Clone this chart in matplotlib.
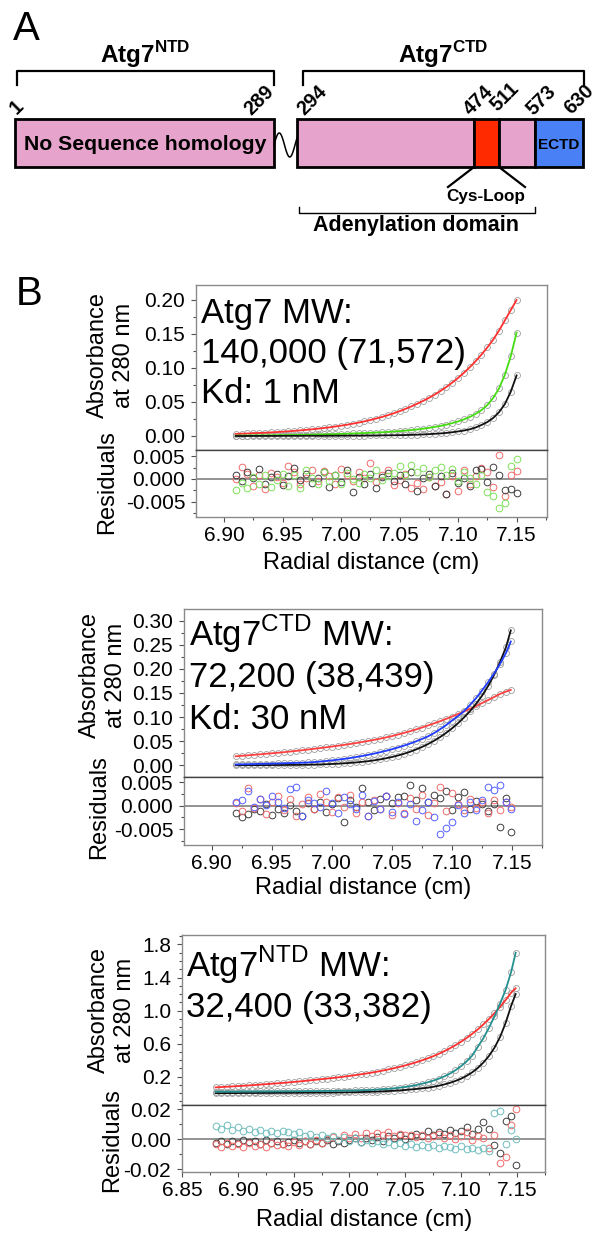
import numpy as np
import matplotlib
matplotlib.use("Agg")
import matplotlib.pyplot as plt
from matplotlib.patches import Rectangle
from matplotlib.ticker import MultipleLocator, FixedLocator, FormatStrFormatter

plt.rcParams['font.family'] = ['Liberation Sans', 'DejaVu Sans']
plt.rcParams['mathtext.fontset'] = 'custom'
plt.rcParams['mathtext.rm'] = 'Liberation Sans'
plt.rcParams['mathtext.bf'] = 'Liberation Sans:bold'
plt.rcParams['axes.unicode_minus'] = False

W, H = 598, 1235

# === PANEL A: DOMAIN MAP ===
residue_labels = ["1", "289", "294", "474", "511", "573", "630"]
domain_names = ["No Sequence homology", "", "Cys-Loop", "", "ECTD"]
domain_colors = ["#e6a3cb", "#e6a3cb", "#ff2a00", "#e6a3cb", "#4a80f5"]

# === PANEL B: SEDIMENTATION EQUILIBRIUM ===
# Atg7 full length
radial_atg7 = [6.910, 6.915, 6.920, 6.925, 6.930, 6.935, 6.940,
               6.945, 6.950, 6.955, 6.960, 6.965, 6.970, 6.975,
               6.980, 6.985, 6.990, 6.995, 7.000, 7.005, 7.010,
               7.015, 7.020, 7.025, 7.030, 7.035, 7.040, 7.045,
               7.050, 7.055, 7.060, 7.065, 7.070, 7.075, 7.080,
               7.085, 7.090, 7.095, 7.100, 7.105, 7.110, 7.115,
               7.120, 7.125, 7.130, 7.135, 7.140, 7.145, 7.150]
abs_atg7_red = [.0031, .0034, .0037, .0041, .0044, .0048, .0053,
                .0058, .0063, .0069, .0075, .0082, .0090, .0098,
                .0107, .0117, .0127, .0139, .0152, .0165, .0181,
                .0197, .0215, .0235, .0257, .0280, .0306, .0334,
                .0365, .0398, .0435, .0473, .0515, .0560, .0609,
                .0663, .0721, .0785, .0854, .0929, .1011, .1100,
                .1197, .1302, .1417, .1550, .1700, .1850, .2000]
abs_atg7_green = [.0005, .0006, .0007, .0008, .0009, .0010, .0011,
                  .0012, .0013, .0014, .0015, .0016, .0018, .0020,
                  .0022, .0024, .0026, .0028, .0031, .0034, .0037,
                  .0040, .0043, .0047, .0051, .0055, .0060, .0066,
                  .0072, .0079, .0087, .0096, .0107, .0119, .0133,
                  .0149, .0167, .0189, .0214, .0244, .0280, .0325,
                  .0380, .0455, .0560, .0700, .0900, .1170, .1520]
abs_atg7_black = [.0000, .0000, .0000, .0001, .0001, .0001, .0001,
                  .0001, .0002, .0002, .0002, .0002, .0003, .0003,
                  .0003, .0003, .0004, .0004, .0005, .0005, .0006,
                  .0006, .0007, .0008, .0008, .0009, .0010, .0011,
                  .0012, .0014, .0016, .0019, .0023, .0027, .0032,
                  .0038, .0045, .0055, .0067, .0080, .0098, .0125,
                  .0162, .0205, .0265, .0350, .0470, .0650, .0890]
# residuals in units of 1e-3
res_atg7_red = [0.0, 2.6, 1.0, -1.6, 0.8, -2.2, 1.3,
                0.4, -0.8, 2.9, 1.5, -1.2, 0.3, 2.0,
                -0.5, 1.8, 0.6, -1.0, 2.2, 0.9, -0.4,
                1.6, 0.2, 3.5, -0.6, 0.8, 1.9, -1.4,
                -0.2, 1.2, -1.9, -0.9, -2.3, 0.5, -1.6,
                -0.6, -3.4, 0.7, -2.6, 1.9, -1.1, 0.6,
                2.4, 1.6, -1.8, 5.2, -3.8, 0.9, 1.8]
res_atg7_black = [0.8, -0.5, 1.6, 0.2, 2.3, -1.0, 0.4,
                  1.2, -1.4, 0.6, 2.5, -0.3, 1.0, -0.9,
                  0.3, 1.6, -1.8, 0.9, -0.6, 1.9, -2.8,
                  0.5, -1.2, 1.0, -2.0, 0.4, 1.3, -0.5,
                  0.9, -1.0, 1.5, -2.7, 0.2, 1.1, -1.6,
                  0.6, -3.4, 1.4, -0.8, 0.3, -1.5, 1.9,
                  2.1, -0.7, 2.6, 0.8, -2.4, -2.2, -3.0]
res_atg7_green = [-2.5, -0.8, -1.9, 0.4, -1.2, 0.9, -1.8,
                  -0.3, 1.1, -1.5, 0.8, -1.9, 2.0, 0.2,
                  -1.0, 1.6, -0.4, 0.9, -1.2, 1.3, 0.1,
                  -0.8, 1.2, 0.3, 1.9, -0.3, 0.6, 1.4,
                  2.8, 0.8, 3.0, 1.5, 2.4, 0.5, 1.9,
                  2.7, 0.9, 2.2, -0.4, 1.6, 0.3, -1.0,
                  0.8, -2.9, -3.8, -6.5, -5.3, 2.8, 4.4]

# Atg7 CTD
radial_ctd = [6.920, 6.925, 6.930, 6.935, 6.940, 6.945, 6.950,
              6.955, 6.960, 6.965, 6.970, 6.975, 6.980, 6.985,
              6.990, 6.995, 7.000, 7.005, 7.010, 7.015, 7.020,
              7.025, 7.030, 7.035, 7.040, 7.045, 7.050, 7.055,
              7.060, 7.065, 7.070, 7.075, 7.080, 7.085, 7.090,
              7.095, 7.100, 7.105, 7.110, 7.115, 7.120, 7.125,
              7.130, 7.135, 7.140, 7.145, 7.149]
abs_ctd_red = [.0185, .0195, .0205, .0215, .0226, .0237, .0248,
               .0258, .0270, .0283, .0296, .0310, .0325, .0340,
               .0355, .0371, .0387, .0404, .0421, .0440, .0459,
               .0480, .0502, .0525, .0550, .0576, .0604, .0637,
               .0670, .0705, .0742, .0782, .0825, .0868, .0912,
               .0960, .1010, .1062, .1115, .1170, .1228, .1290,
               .1352, .1415, .1480, .1530, .1565]
abs_ctd_blue = [.0015, .0018, .0021, .0024, .0027, .0030, .0033,
                .0036, .0040, .0044, .0048, .0052, .0057, .0065,
                .0075, .0087, .0100, .0114, .0130, .0148, .0168,
                .0190, .0214, .0240, .0268, .0298, .0331, .0367,
                .0406, .0448, .0494, .0544, .0598, .0665, .0745,
                .0830, .0925, .1020, .1120, .1250, .1390, .1550,
                .1720, .1900, .2100, .2330, .2570]
abs_ctd_black = [.0000, .0000, .0001, .0001, .0002, .0002, .0003,
                 .0004, .0005, .0006, .0007, .0009, .0011, .0013,
                 .0016, .0020, .0025, .0031, .0038, .0047, .0057,
                 .0069, .0083, .0100, .0120, .0143, .0170, .0201,
                 .0237, .0278, .0325, .0378, .0438, .0506, .0582,
                 .0668, .0764, .0870, .0990, .1120, .1270, .1440,
                 .1640, .1870, .2140, .2450, .2800]
res_ctd_red = [0.6, -1.2, 3.8, -0.5, 1.4, -1.8, 0.9,
               2.1, -0.9, 1.5, -2.2, 0.4, 1.8, -0.6,
               2.6, 0.8, -1.4, 1.9, -0.3, 2.3, -1.6,
               0.9, -2.3, 1.2, -0.7, 2.0, -1.9, 0.5,
               -1.5, 1.7, -0.8, 2.2, -2.0, 0.6, 4.0,
               -1.2, 2.8, 0.4, -1.0, 1.5, -0.5, 0.9,
               -1.6, 1.2, -0.9, 0.7, -0.3]
res_ctd_black = [-1.5, -2.4, -1.8, -0.6, -1.2, 0.3, -1.9,
                 -0.8, -1.6, 0.2, -1.1, -2.2, 0.5, -0.7,
                 0.9, -1.3, 0.4, 1.6, -3.5, 1.2, -0.2,
                 3.9, 0.8, -1.0, 1.4, 2.0, 0.6, 1.9,
                 2.1, 4.5, 1.3, 3.7, 0.9, 2.4, 1.6,
                 3.2, -0.9, 1.8, 2.9, -0.6, 1.1, 0.3,
                 -1.2, 0.4, -4.5, 1.6, -5.6]
res_ctd_blue = [0.8, 1.2, 3.2, -0.3, 1.5, 0.2, 2.0,
                0.9, -0.4, 3.5, 4.1, -2.3, 1.3, 0.6,
                -0.2, 3.2, 0.5, -1.5, 1.9, 0.3, -0.8,
                2.4, -2.2, 1.1, -0.6, 2.0, -1.3, 0.7,
                -1.8, 0.4, -3.3, -1.0, 0.9, -2.4, -6.1,
                -4.7, -3.4, 0.2, -1.5, 0.8, -1.0, 1.3,
                4.0, 3.3, 4.4, 0.9, -0.8]

# Atg7 NTD
radial_ntd = [6.880, 6.885, 6.890, 6.895, 6.900, 6.905, 6.910,
              6.915, 6.920, 6.925, 6.930, 6.935, 6.940, 6.945,
              6.950, 6.955, 6.960, 6.965, 6.970, 6.975, 6.980,
              6.985, 6.990, 6.995, 7.000, 7.005, 7.010, 7.015,
              7.020, 7.025, 7.030, 7.035, 7.040, 7.045, 7.050,
              7.055, 7.060, 7.065, 7.070, 7.075, 7.080, 7.085,
              7.090, 7.095, 7.100, 7.105, 7.110, 7.115, 7.120,
              7.125, 7.130, 7.135, 7.140, 7.145, 7.149]
abs_ntd_red = [.070, .074, .078, .082, .086, .090, .094,
               .099, .104, .109, .114, .119, .124, .130,
               .136, .142, .149, .156, .163, .170, .177,
               .184, .192, .200, .209, .218, .228, .238,
               .249, .261, .274, .288, .303, .319, .336,
               .355, .375, .397, .421, .447, .476, .508,
               .543, .581, .623, .668, .718, .772, .832,
               .897, .968, 1.045, 1.128, 1.218, 1.270]
abs_ntd_teal = [.018, .018, .019, .019, .019, .020, .020,
                .020, .021, .021, .021, .022, .022, .023,
                .023, .024, .024, .025, .025, .026, .027,
                .028, .029, .030, .031, .033, .035, .037,
                .040, .044, .048, .053, .059, .067, .076,
                .087, .099, .114, .131, .151, .175, .203,
                .236, .278, .327, .385, .455, .560, .665,
                .790, .930, 1.085, 1.250, 1.470, 1.700]
abs_ntd_black = [.000, .000, .001, .001, .001, .002, .002,
                 .002, .003, .003, .003, .004, .004, .004,
                 .005, .005, .006, .006, .007, .007, .008,
                 .008, .009, .010, .011, .012, .014, .016,
                 .018, .020, .023, .026, .030, .034, .039,
                 .045, .051, .058, .066, .077, .090, .106,
                 .125, .148, .175, .210, .252, .305, .370,
                 .450, .550, .680, .850, 1.060, 1.200]
res_ntd_teal = [8.5, 7.0, 9.6, 6.2, 7.8, 5.4, 6.9,
                5.0, 6.3, 4.2, 5.6, 3.8, 5.1, 4.4,
                3.2, 4.5, 2.1, 3.6, 1.5, 2.8, 0.6,
                1.9, -0.4, 1.2, -1.3, 0.5, -2.0, -0.8,
                -2.6, -1.2, -3.3, -1.9, -3.8, -2.7, -4.5,
                -3.2, -5.3, -3.9, -5.0, -4.2, -6.0, -4.6,
                -5.5, -6.4, -4.9, -6.8, -5.7, -7.5, -6.2,
                -7.8, 17.5, 19.0, -3.5, 6.0, 0.2]
res_ntd_black = [-2.5, -1.5, -3.2, -1.0, -2.8, -0.8, -2.2,
                 -1.4, -3.0, -0.6, -2.4, -1.1, -3.4, -1.8,
                 -0.9, -2.6, -1.5, -3.0, -1.2, -2.4, -0.4,
                 -3.2, -1.6, -2.8, -0.6, 0.4, -2.0, 0.9,
                 -0.5, 1.2, -1.1, 1.8, 0.4, 2.5, -0.3,
                 1.9, 3.6, 2.2, 5.4, 3.0, 4.8, 3.3,
                 6.0, 4.2, 5.5, 7.8, 3.5, 6.9, 11.2,
                 7.0, -3.8, -9.5, 12.0, 15.6, -17.2]
res_ntd_red = [-3.5, -5.0, -2.8, -4.4, -3.0, -5.2, -2.4,
               -4.6, -3.6, -5.5, -2.5, -4.0, -3.0, -4.8,
               -2.2, -3.8, -1.5, -3.3, -0.9, -2.6, -0.2,
               1.6, -0.8, 2.5, 0.4, 3.2, 1.0, 3.8,
               2.2, 4.1, 2.8, 4.5, 1.9, 3.6, 2.4,
               3.0, 1.2, 2.8, 0.6, 2.1, 3.3, 1.0,
               2.6, 0.3, 1.8, 4.6, -0.5, 2.0, 0.8,
               -6.0, 3.0, -16.0, -12.0, 9.5, 20.0]

fig = plt.figure(figsize=(W / 100, H / 100), dpi=100)


def px_axes(left, right, top, bottom):
    return fig.add_axes([left / W, 1 - bottom / H, (right - left) / W, (bottom - top) / H])


def put(x, y, s, **kw):
    return fig.text(x / W, 1 - y / H, s, **kw)


# --- panel A drawn in pixel space ---
axa = fig.add_axes([0, 0, 1, 1])
axa.set_xlim(0, W)
axa.set_ylim(H, 0)
axa.axis('off')

bar_top, bar_bot = 119, 167
seg_edges = [(15, 274), (297, 474), (474, 499), (499, 535), (535, 583)]
for (x0, x1), col in zip(seg_edges, domain_colors):
    axa.add_patch(Rectangle((x0, bar_top), x1 - x0, bar_bot - bar_top,
                            facecolor=col, edgecolor='black', lw=2.0, zorder=2))
axa.text(145, 145, domain_names[0], ha='center', va='center',
         fontsize=15.3, fontweight='bold')
axa.text(559, 145, domain_names[4], ha='center', va='center',
         fontsize=11, fontweight='bold')

# linker squiggle
sx = np.linspace(274, 297, 60)
axa.plot(sx, 145 - 12 * np.sin(2 * np.pi * (sx - 274) / 21), color='black', lw=1.1)

# brackets
axa.plot([17, 17, 274, 274], [85, 70.5, 70.5, 85], color='black', lw=1.6)
axa.plot([303, 303, 584, 584], [85, 70.5, 70.5, 85], color='black', lw=1.6)
axa.plot([299, 299, 535, 535], [207, 213, 213, 207], color='black', lw=1.0)
axa.text(145, 63, r'Atg7$^{\mathbf{NTD}}$', ha='center', va='baseline',
         fontsize=17.5, fontweight='bold')
axa.text(443, 63, r'Atg7$^{\mathbf{CTD}}$', ha='center', va='baseline',
         fontsize=17.5, fontweight='bold')

# cys loop
axa.plot([474, 448], [167, 187], color='black', lw=1.6)
axa.plot([499, 525], [167, 187], color='black', lw=1.6)
axa.text(486, 197, domain_names[2], ha='center', va='center', fontsize=12.3,
         fontweight='bold', color='black')
axa.text(416, 225, "Adenylation domain", ha='center', va='center',
         fontsize=15.5, fontweight='bold')

# residue numbers
label_pos = [(17, 107), (259, 100), (312, 100), (479, 100), (505, 97), (541, 100), (579, 99)]
for lab, (lx, ly) in zip(residue_labels, label_pos):
    axa.text(lx, ly, lab, rotation=45, ha='center', va='center',
             fontsize=14.3, fontweight='bold')

put(13, 40, "A", fontsize=29, va='baseline')
put(16, 305, "B", fontsize=29, va='baseline')


# --- panel B ---
def sed_panel(box, xlim, ylim, rlim, radial, series, resid, ymajor, yminor,
              yfmt, rmajor, rminor, rfmt):
    left, right, top, mid, bottom = box
    ax = px_axes(left, right, top, mid)
    axr = px_axes(left, right, mid, bottom)
    x = np.array(radial)
    for absorb, col in series:
        ax.plot(x, absorb, 'o', ms=4.3, mfc='none', mec='#9e9e9e', mew=0.6, zorder=2)
    for absorb, col in series:
        ax.plot(x, absorb, '-', color=col, lw=1.3, zorder=3)
    axr.axhline(0, color='#808080', lw=1.2, zorder=1)
    for r, col in resid:
        axr.plot(x, np.array(r) * 1e-3, 'o', ms=4.8, mfc='none', mec=col, mew=0.7, zorder=2)

    ax.set_xlim(*xlim)
    axr.set_xlim(*xlim)
    ax.set_ylim(*ylim)
    axr.set_ylim(*rlim)

    if isinstance(ymajor, list):
        ax.yaxis.set_major_locator(FixedLocator(ymajor))
    else:
        ax.yaxis.set_major_locator(MultipleLocator(ymajor))
    ax.yaxis.set_minor_locator(MultipleLocator(yminor))
    ax.yaxis.set_major_formatter(FormatStrFormatter(yfmt))
    axr.yaxis.set_major_locator(MultipleLocator(rmajor))
    axr.yaxis.set_minor_locator(MultipleLocator(rminor))
    axr.yaxis.set_major_formatter(FormatStrFormatter(rfmt))
    axr.xaxis.set_major_locator(MultipleLocator(0.05))
    axr.xaxis.set_minor_locator(MultipleLocator(0.025))
    axr.xaxis.set_major_formatter(FormatStrFormatter('%.2f'))

    for a in (ax, axr):
        for s in a.spines.values():
            s.set_color('#8a8a8a')
            s.set_linewidth(1.0)
        a.tick_params(which='both', direction='out', color='#505050', width=0.8,
                      labelsize=15, right=False, top=False)
        a.tick_params(which='major', length=3.8, pad=4)
        a.tick_params(which='minor', length=2.2)
        a.tick_params(axis='x', which='major', pad=2.5)
    ax.spines['bottom'].set_color('#444444')
    axr.spines['top'].set_color('#444444')
    ax.tick_params(axis='x', which='both', bottom=False, labelbottom=False)
    return ax, axr


sed_panel((196, 547, 285, 450, 517), (6.876, 7.176), (-0.0206, 0.222), (-0.0084, 0.0064),
          radial_atg7,
          [(abs_atg7_red, '#ff3030'), (abs_atg7_green, '#44dd11'), (abs_atg7_black, '#111111')],
          [(res_atg7_red, '#f06a6a'), (res_atg7_black, '#3c3c3c'), (res_atg7_green, '#7ee05a')],
          0.05, 0.025, '%.2f', 0.005, 0.0025, '%.3f')

sed_panel((184, 542, 609, 777, 845), (6.877, 7.175), (-0.0245, 0.3245), (-0.0084, 0.00615),
          radial_ctd,
          [(abs_ctd_red, '#ff4040'), (abs_ctd_black, '#111111'), (abs_ctd_blue, '#1f3cff')],
          [(res_ctd_black, '#3c3c3c'), (res_ctd_red, '#f06a6a'), (res_ctd_blue, '#5560ff')],
          0.05, 0.025, '%.2f', 0.005, 0.0025, '%.3f')

sed_panel((182, 545, 935, 1105, 1172), (6.8499, 7.1753), (-0.143, 1.915), (-0.022, 0.0227),
          radial_ntd,
          [(abs_ntd_red, '#ff3030'), (abs_ntd_black, '#111111'), (abs_ntd_teal, '#23908f')],
          [(res_ntd_black, '#3c3c3c'), (res_ntd_red, '#f06a6a'), (res_ntd_teal, '#6fbdbd')],
          [0.2, 0.6, 1.0, 1.4, 1.8], 0.1, '%.1f', 0.02, 0.01, '%.2f')

# panel annotations
ann = dict(fontsize=25, ha='left', va='baseline')
put(201, 323, "Atg7 MW:", **ann)
put(201, 363, "140,000 (71,572)", **ann)
put(201, 403, "Kd: 1 nM", **ann)
put(189, 646, r"Atg7$^{\mathrm{CTD}}$ MW:", **ann)
put(189, 687, "72,200 (38,439)", **ann)
put(189, 729, "Kd: 30 nM", **ann)
put(186, 977, r"Atg7$^{\mathrm{NTD}}$ MW:", **ann)
put(186, 1017, "32,400 (33,382)", **ann)

lab = dict(fontsize=17, rotation=90, ha='center', va='center', multialignment='center',
           linespacing=1.2)
put(111, 355, "Absorbance\nat 280 nm", **lab)
put(107, 482, "Residuals", **lab)
put(103, 675, "Absorbance\nat 280 nm", **lab)
put(99, 807, "Residuals", **lab)
put(112, 1010, "Absorbance\nat 280 nm", **lab)
put(112, 1140, "Residuals", **lab)

put(371, 563, "Radial distance (cm)", fontsize=17, ha='center', va='center')
put(363, 888, "Radial distance (cm)", fontsize=17, ha='center', va='center')
put(364, 1220, "Radial distance (cm)", fontsize=17, ha='center', va='center')

fig.savefig("out.png", dpi=100)
